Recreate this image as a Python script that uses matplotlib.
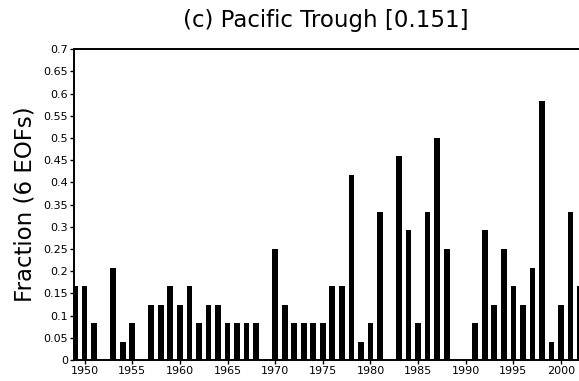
import numpy as np
import matplotlib.pyplot as plt

# fraction of the 6 EOFs per year (multiples of 1/24)
years = np.arange(1949, 2003)
fraction = [
    0.1667, 0.1667, 0.0833, 0.0, 0.2083, 0.0417, 0.0833, 0.0, 0.125, 0.125,
    0.1667, 0.125, 0.1667, 0.0833, 0.125, 0.125, 0.0833, 0.0833, 0.0833, 0.0833,
    0.0, 0.25, 0.125, 0.0833, 0.0833, 0.0833, 0.0833, 0.1667, 0.1667, 0.4167,
    0.0417, 0.0833, 0.3333, 0.0, 0.4583, 0.2917, 0.0833, 0.3333, 0.5, 0.25,
    0.0, 0.0, 0.0833, 0.2917, 0.125, 0.25, 0.1667, 0.125, 0.2083, 0.5833,
    0.0417, 0.125, 0.3333, 0.1667,
]
xticks = [1950, 1955, 1960, 1965, 1970, 1975, 1980, 1985, 1990, 1995, 2000]
yticks = np.round(np.arange(0, 0.701, 0.05), 2)
title = '(c) Pacific Trough [0.151]'

fig = plt.figure(figsize=(5.79, 3.81), dpi=100)
ax = fig.add_axes([0.128, 0.055, 0.892, 0.816])
ax.bar(years, fraction, width=0.6, color='black')

ax.set_xlim(1948.9, 2003.1)
ax.set_ylim(0, 0.7)
ax.set_xticks(xticks)
ax.set_yticks(yticks)
ax.set_yticklabels([f'{v:g}' for v in yticks])
ax.tick_params(direction='out', length=3, width=1, labelsize=8, pad=1.5)
for s in ax.spines.values():
    s.set_linewidth(1.4)

ax.set_ylabel('Fraction (6 EOFs)', fontsize=16.5, labelpad=5)
fig.text(0.563, 0.945, title, fontsize=16.5, ha='center', va='center')

fig.savefig('out.png', dpi=100)
